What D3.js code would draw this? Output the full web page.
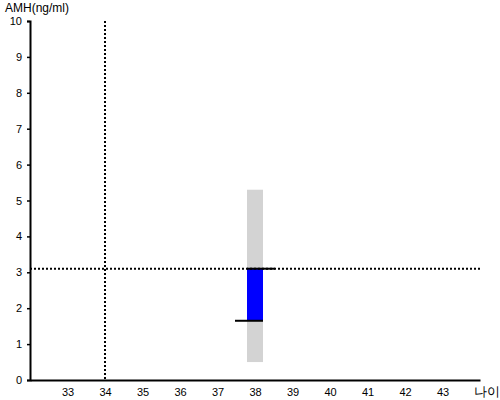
<!DOCTYPE html>
<html>
<head>
<meta charset="utf-8">
<script src="https://cdn.jsdelivr.net/npm/d3@7"></script>
<style>
  body { margin: 0; background: #fff; }
  text { font-family: "Liberation Sans", Arial, sans-serif; }
</style>
</head>
<body>
<div id="chart"></div>
<script>
// ---- DATA ------------------------------------------------------------
var xTicks = [33, 34, 35, 36, 37, 38, 39, 40, 41, 42, 43];
var yTicks = [0, 1, 2, 3, 4, 5, 6, 7, 8, 9, 10];
var ageLine = 34;          // vertical dotted line
var amhLine = 3.1;         // horizontal dotted line
var age = 38;
var rangeLow = 0.5, rangeHigh = 5.3;   // gray band
var amhValue = 3.1, amhRef = 1.65;     // blue bar ends

// ---- VARIABLES -------------------------------------------------------
var w = 500;
var h = 400;
var padLeft = 30, padRight = 480, padTop = 21, padBottom = 380;

var svg = d3.select("#chart")
  .append("svg")
  .attr("width", w)
  .attr("height", h);

// ---- SCALES ----------------------------------------------------------
var xScale = d3.scaleLinear()
  .domain([32, 44])
  .range([padLeft, padRight]);

var yScale = d3.scaleLinear()
  .domain([0, 10])
  .range([padBottom, padTop]);

var xAxis = d3.axisBottom(xScale).tickValues(xTicks).tickSize(0).tickPadding(8);
var yAxis = d3.axisLeft(yScale).tickValues(yTicks).tickSize(3).tickPadding(5);

// ---- MARKS -----------------------------------------------------------
var bw = 16;
var cx = xScale(age);

svg.append("rect")
  .attr("x", cx - bw / 2)
  .attr("width", bw)
  .attr("y", yScale(rangeHigh))
  .attr("height", yScale(rangeLow) - yScale(rangeHigh))
  .attr("fill", "#d3d3d3");

svg.append("rect")
  .attr("x", cx - bw / 2)
  .attr("width", bw)
  .attr("y", yScale(amhValue))
  .attr("height", yScale(amhRef) - yScale(amhValue))
  .attr("fill", "#0000ff");

// dotted reference lines
svg.append("line")
  .attr("x1", padLeft).attr("x2", padRight)
  .attr("y1", yScale(amhLine)).attr("y2", yScale(amhLine))
  .attr("stroke", "#000").attr("stroke-width", 2)
  .attr("stroke-dasharray", "2,2");

svg.append("line")
  .attr("x1", xScale(ageLine)).attr("x2", xScale(ageLine))
  .attr("y1", yScale(10)).attr("y2", padBottom)
  .attr("stroke", "#000").attr("stroke-width", 2)
  .attr("stroke-dasharray", "2,2");

// black ticks on the bar
svg.append("line")
  .attr("x1", cx - bw / 2).attr("x2", cx + bw / 2 + 12)
  .attr("y1", yScale(amhValue)).attr("y2", yScale(amhValue))
  .attr("stroke", "#000").attr("stroke-width", 2);

svg.append("line")
  .attr("x1", cx - bw / 2 - 12).attr("x2", cx + bw / 2)
  .attr("y1", yScale(amhRef)).attr("y2", yScale(amhRef))
  .attr("stroke", "#000").attr("stroke-width", 2);

// ---- AXES ------------------------------------------------------------
var gx = svg.append("g")
  .attr("transform", "translate(0," + padBottom + ")")
  .call(xAxis);
gx.select(".domain").attr("stroke", "#000").attr("stroke-width", 2);
gx.selectAll("text").attr("font-size", "11px").attr("fill", "#000")
  .attr("font-family", "Liberation Sans, Arial, sans-serif");

var gy = svg.append("g")
  .attr("transform", "translate(" + padLeft + ",0)")
  .call(yAxis);
gy.select(".domain").attr("stroke", "#000").attr("stroke-width", 2);
gy.selectAll("line").attr("stroke", "#000").attr("stroke-width", 1.5);
gy.selectAll("text").attr("font-size", "11px").attr("fill", "#000")
  .attr("font-family", "Liberation Sans, Arial, sans-serif");

// ---- LABELS ----------------------------------------------------------
svg.append("text")
  .attr("x", 5).attr("y", 12)
  .attr("font-size", "12px")
  .attr("fill", "#000")
  .text("AMH(ng/ml)");

svg.append("text")
  .attr("x", 474).attr("y", 396)
  .attr("font-size", "13px")
  .attr("font-family", "Noto Sans CJK KR")
  .attr("fill", "#000")
  .text("나이");
</script>
</body>
</html>
